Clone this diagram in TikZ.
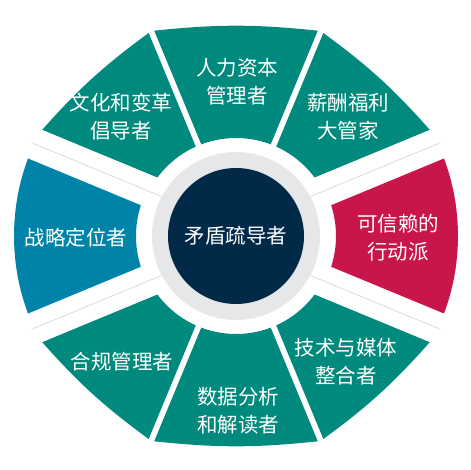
\documentclass[tikz,border=0pt]{standalone}
\usepackage{fontspec}
\newfontfamily\cjk{Noto Sans CJK SC}
\usetikzlibrary{calc}
\definecolor{cteal}{HTML}{008A7D}
\definecolor{cblue}{HTML}{0083A9}
\definecolor{cred}{HTML}{C8164A}
\definecolor{cnavy}{HTML}{002A48}
\definecolor{cring}{HTML}{E6E7E9}
\definecolor{cline}{HTML}{E0E0E0}
\tikzset{
  role/.style={font=\cjk\fontsize{20.5}{28}\selectfont, text=white, align=center, inner sep=0pt},
  gapline/.style={draw=cline, line width=1pt},
}
% teal segment between rays #1 and #2, gaps #3 and #4 off the rays
\newcommand{\tealseg}[4]{%
  \pgfmathsetmacro{\aoutA}{#1+asin(#3/221)}
  \pgfmathsetmacro{\aoutB}{#2-asin(#4/221)}
  \pgfmathsetmacro{\ainA}{#1+asin(#3/98)}
  \pgfmathsetmacro{\ainB}{#2-asin(#4/98)}
  \fill[cteal] (\ainA:98) -- (\aoutA:221) to[bend right=6] (\aoutB:221) -- (\ainB:98)
    arc[start angle=\ainB, end angle=\ainA, radius=98pt] -- cycle;
}
% highlighted segment, sits a little further out
\newcommand{\keyseg}[3]{%
  \pgfmathsetmacro{\aoutA}{#2+asin(8/222)}
  \pgfmathsetmacro{\aoutB}{#3-asin(8/222)}
  \pgfmathsetmacro{\ainA}{#2+asin(8/100)}
  \pgfmathsetmacro{\ainB}{#3-asin(8/100)}
  \fill[#1] (\ainA:100) -- (\aoutA:222) arc[start angle=\aoutA, end angle=\aoutB, radius=222pt]
    -- (\ainB:100) arc[start angle=\ainB, end angle=\ainA, radius=100pt] -- cycle;
}

\begin{document}
\begin{tikzpicture}[x=1pt, y=1pt]
  \useasboundingbox (-236,-234) rectangle (234,236);
  % ring of roles
  \tealseg{67.5}{112.5}{3}{3}
  \tealseg{22.5}{67.5}{24}{3}
  \keyseg{cred}{-22.5}{22.5}
  \tealseg{-67.5}{-22.5}{3}{24}
  \tealseg{-112.5}{-67.5}{3}{3}
  \tealseg{-157.5}{-112.5}{24}{3}
  \keyseg{cblue}{157.5}{202.5}
  \tealseg{112.5}{157.5}{3}{24}
  % thin lines in the wide gaps
  \draw[gapline] ($(22.5:84)+(112.5:8)$) -- ($(22.5:224)+(112.5:8)$);
  \draw[gapline] ($(-22.5:84)+(-112.5:8)$) -- ($(-22.5:224)+(-112.5:8)$);
  \draw[gapline] ($(157.5:84)+(67.5:8)$) -- ($(157.5:224)+(67.5:8)$);
  \draw[gapline] ($(202.5:84)+(292.5:8)$) -- ($(202.5:224)+(292.5:8)$);
  % centre
  \fill[cring] (0,0) circle[radius=84pt];
  \node[role, circle, fill=cnavy, minimum size=136pt] (core) at (0,0) {矛盾疏导者};
  % labels
  \node[role] (hcm) at (1,154) {人力资本\\管理者};
  \node[role] (pay) at (112,119) {薪酬福利\\大管家};
  \node[role] (act) at (162,-2) {可信赖的\\行动派};
  \node[role] (tech) at (110,-126) {技术与媒体\\整合者};
  \node[role] (data) at (2,-175) {数据分析\\和解读者};
  \node[role] (comp) at (-114,-126) {合规管理者};
  \node[role] (strat) at (-160,-2) {战略定位者};
  \node[role] (cult) at (-115,119) {文化和变革\\倡导者};
\end{tikzpicture}
\end{document}
